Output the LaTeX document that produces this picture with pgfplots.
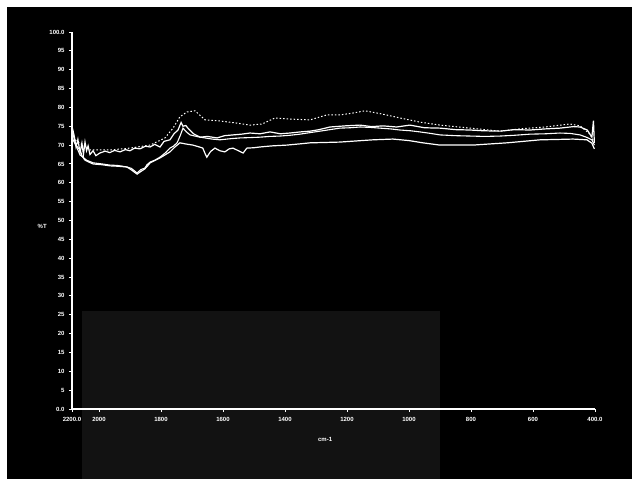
\documentclass[border=0pt]{standalone}
\usepackage{fontspec}
\setmainfont{Liberation Sans}
\usepackage{pgfplots}
\pgfplotsset{compat=1.18}
\begin{document}
\begin{tikzpicture}[x=1pt,y=1pt]
\fill[white] (0,0) rectangle (635,479);
\fill[black] (7,0) rectangle (632,472);
\fill[black!93!white] (82,0) rectangle (440,168);
\begin{axis}[
  at={(72pt,70pt)}, anchor=south west,
  scale only axis, width=523pt, height=377pt,
  x dir=reverse, xmin=400, xmax=2087, ymin=0, ymax=100,
  axis x line=bottom, axis y line=left,
  axis line style={-, white, line width=1.2pt},
  xtick={2087,2000,1800,1600,1400,1200,1000,800,600,400},
  xticklabels={2200.0,2000,1800,1600,1400,1200,1000,800,600,400.0},
  ytick={0,5,...,100},
  yticklabels={0.0,5,10,15,20,25,30,35,40,45,50,55,60,65,70,75,80,85,90,95,100.0},
  tick align=outside, major tick length=3pt,
  every tick/.style={white, line width=0.9pt},
  tick label style={white, font=\fontsize{6}{7}\selectfont\bfseries},
  /pgf/number format/assume math mode=true,
  xticklabel style={yshift=-2pt},
  yticklabel style={xshift=-1pt},
  xlabel={cm-1}, ylabel={\%T},
  xlabel style={white, font=\fontsize{6}{7}\selectfont\bfseries, at={(axis description cs:0.484,-0.082)}, anchor=center},
  ylabel style={white, font=\fontsize{6}{7}\selectfont\bfseries, rotate=-90, at={(axis description cs:-0.057,0.483)}, anchor=center},
  clip=true,
]
% top dotted curve
\addplot[white, line width=1pt, dash pattern=on 1.5pt off 2pt] coordinates {
(2077,71.4)(2029,68.7)(1965,68.7)(1900,69.2)(1835,70.0)(1787,71.9)(1761,74.5)(1739,77.5)(1716,78.8)(1690,79.1)(1658,76.7)(1610,76.4)(1561,75.9)(1513,75.3)(1474,75.6)(1432,77.2)(1384,76.9)(1319,76.7)(1265,78.0)(1223,78.0)(1181,78.5)(1142,79.1)(1084,78.2)(1029,77.2)(965,76.1)(900,75.3)(803,74.5)(706,73.7)(642,74.3)(561,74.8)(481,75.6)(448,75.1)(416,72.9)(402,70.6)
};
% upper solid curve
\addplot[white, line width=1.2pt] coordinates {
(2087,75)(2080,72.5)(2074,69.5)(2068,71.5)(2061,68.0)(2055,70.5)(2050,67.5)(2045,70.8)(2040,68.5)(2035,69.8)(2029,67.5)(2019,68.5)(2010,67.2)(1997,67.9)(1980,68.4)(1965,68.0)(1950,68.6)(1932,68.2)(1915,68.8)(1900,68.5)(1885,69.2)(1868,69.0)(1850,69.7)(1835,69.5)(1820,70.2)(1803,69.5)(1790,71.0)(1771,71.4)(1758,73.0)(1745,74.0)(1735,76.0)(1729,75.0)(1720,75.2)(1713,74.5)(1695,73.0)(1674,72.1)(1650,72.3)(1619,71.9)(1595,72.5)(1568,72.7)(1540,72.9)(1513,73.2)(1480,73.0)(1448,73.5)(1415,73.0)(1384,73.2)(1350,73.5)(1319,73.7)(1290,74.1)(1255,74.8)(1206,75.1)(1158,75.3)(1120,74.9)(1084,75.1)(1040,74.8)(997,75.3)(950,74.6)(900,74.5)(850,74.1)(803,74.0)(760,73.8)(706,73.7)(660,74.1)(610,74.0)(560,74.3)(513,74.5)(470,74.9)(448,74.8)(425,74.0)(410,72.1)(405,76.5)(402,70.6)
};
% middle curve
\addplot[white, line width=1.1pt] coordinates {
(2087,74)(2075,70)(2061,67.4)(2040,66.0)(2019,65.3)(1990,65.0)(1965,64.7)(1940,64.6)(1910,64.2)(1895,63.8)(1877,62.6)(1865,63.5)(1852,63.9)(1845,64.8)(1835,65.5)(1820,66.0)(1803,66.8)(1785,68.0)(1771,69.2)(1760,69.7)(1748,70.6)(1738,72.5)(1729,74.5)(1718,73.5)(1706,72.7)(1680,72.2)(1658,71.9)(1635,71.6)(1610,71.4)(1575,71.7)(1545,71.9)(1510,72.0)(1481,72.1)(1450,72.3)(1416,72.4)(1385,72.6)(1352,72.9)(1320,73.3)(1287,73.7)(1255,74.1)(1223,74.5)(1190,74.6)(1158,74.8)(1125,74.7)(1094,74.5)(1060,74.3)(1029,74.0)(995,73.8)(965,73.5)(930,73.1)(900,72.7)(850,72.5)(803,72.4)(755,72.3)(706,72.4)(660,72.6)(610,72.9)(560,73.0)(513,73.2)(480,73.1)(448,72.7)(425,72.0)(410,71.4)(402,70.0)
};
% bottom curve
\addplot[white, line width=1.2pt] coordinates {
(2087,72)(2075,70.0)(2061,68.7)(2055,67.2)(2045,66.0)(2030,65.4)(2019,65.0)(1990,64.8)(1965,64.5)(1940,64.4)(1910,64.2)(1895,63.4)(1877,62.3)(1865,63.0)(1852,63.7)(1843,64.5)(1835,65.3)(1820,65.9)(1803,66.6)(1785,67.5)(1771,68.2)(1755,69.5)(1739,70.6)(1720,70.3)(1697,70.0)(1680,69.6)(1665,69.2)(1658,67.8)(1652,66.8)(1640,68.3)(1626,69.2)(1610,68.5)(1594,68.2)(1580,69.0)(1568,69.2)(1550,68.5)(1535,67.9)(1523,69.2)(1500,69.3)(1481,69.5)(1440,69.8)(1394,70.0)(1355,70.3)(1319,70.6)(1270,70.7)(1223,70.8)(1170,71.1)(1116,71.4)(1052,71.6)(1000,71.2)(955,70.6)(900,70.0)(850,70.0)(794,70.0)(740,70.3)(684,70.6)(630,71.0)(577,71.4)(520,71.5)(471,71.6)(426,71.4)(410,70.5)(402,69.0)
};
\end{axis}
\end{tikzpicture}
\end{document}
